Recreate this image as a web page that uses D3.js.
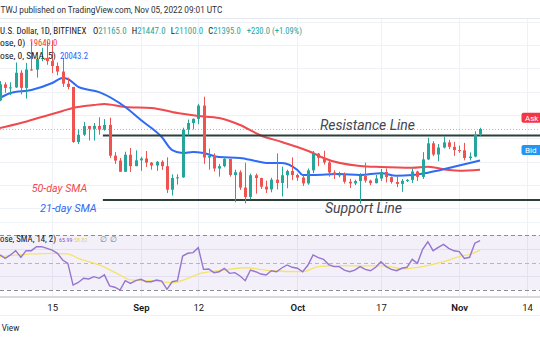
<!DOCTYPE html>
<html><head><meta charset="utf-8">
<script src="https://cdn.jsdelivr.net/npm/d3@7"></script>
<style>
body{margin:0;background:#fff}
svg{display:block}
text{font-family:Roboto,"Liberation Sans","Noto Sans",sans-serif}
text.narrow{font-family:"Liberation Sans Narrow","Roboto Condensed",Roboto,sans-serif}
</style></head>
<body><svg id="c" width="540" height="340"></svg>
<script>
// ---------------- DATA ----------------
const startDate = "2022-08-05", endDate = "2022-11-05";
const opens  = [22620,23310,23160,23180,23810,23160,23950,23940,24400,24440,24310,24100,23860,23340,23200,20840,21150,21520,21400,21530,21370,21570,20250,20040,19560,20290,19800,20050,20130,19950,19830,19990,19800,18790,19290,19320,21370,21650,21830,22400,20170,20240,19700,19800,20110,19420,19540,18880,18480,19410,19290,18920,18800,19220,19080,19410,19590,19420,19310,19060,19620,20340,20160,19960,19530,19420,19440,19130,19060,19160,19380,19180,19070,19270,19550,19330,19120,19040,19170,19210,19570,19340,20090,20780,20300,20600,20820,20630,20490,20480,20150,20210,21165];
const highs  = [23450,23400,23400,24250,23920,24230,25150,24450,24880,25150,25200,24250,24450,23600,23200,21380,21700,21530,21650,21900,21820,21880,20400,20150,20420,20580,20480,20200,20450,19980,20020,20050,20180,19450,19450,21450,21800,21850,22480,22780,20550,20350,19900,20180,20110,19650,19620,19950,19480,19480,19300,19180,19300,20350,19780,19650,20180,19480,19400,19700,20450,20370,20460,20050,19620,19560,19530,19260,19220,19500,19950,19220,19420,19680,19700,19360,19350,19250,19250,19700,19600,20400,21020,20870,20750,21080,20930,20840,20680,20800,20390,21300,21447];
const lows   = [22590,22950,22850,23160,22880,22700,23900,23600,24300,24150,23800,23700,23200,23100,20800,20750,21100,20900,20900,21150,21320,20150,19900,19550,19550,19550,19800,19600,19770,19650,19600,19640,18650,18540,19010,19300,21120,21380,21600,19900,19650,19570,19350,19750,19350,18250,18780,18200,18380,18620,18820,18650,18680,18800,18500,18850,19200,19170,18950,19000,19500,19800,19870,19350,19250,19320,19050,18860,18990,18190,19090,18980,19060,19160,19100,19050,18900,18700,19120,19080,19160,19250,20060,20230,20010,20560,20530,20240,20370,20050,20050,20180,21100];
const closes = [23310,23160,23180,23810,23160,23950,23940,24400,24440,24310,24100,23860,23340,23200,20840,21150,21520,21400,21530,21370,21570,20250,20040,19560,20290,19800,20050,20130,19950,19830,19990,19800,18790,19290,19320,21370,21650,21830,22400,20170,20240,19700,19800,20110,19420,19540,18880,18480,19410,19290,18920,18800,19220,19080,19410,19590,19420,19310,19060,19620,20340,20160,19960,19530,19420,19440,19130,19060,19160,19380,19180,19070,19270,19550,19330,19120,19040,19170,19210,19570,19340,20090,20780,20300,20600,20820,20630,20490,20480,20150,20210,21150,21395];

const rsiValues = [55.5,53,55.5,58.6,53.8,58.6,58.6,61.5,61.5,60.3,59,56.7,51.8,49.4,33.6,35.5,38.5,38,39.7,38.5,41,33,32,30,36.8,34.8,36.8,37.8,36,36,37.3,36.5,30.5,36,36.8,54.7,56.7,57.2,60.8,45,45.3,42.6,43.3,45.7,42.1,42.6,40.2,36.8,44.5,43.3,41.6,40.9,44,43.3,46,48.2,46.5,45.8,43.3,48,55.5,53.5,52.3,48.5,47,47,44.5,43.3,44.5,47,45,44,46.5,50.6,47,45,44,45.8,46.5,52.3,49.4,59.6,65.1,58.6,61,63.2,60.3,58.5,57.9,53,53.8,64,65.99];

const sma21Dates  = ["2022-08-05","2022-08-07","2022-08-11","2022-08-15","2022-08-17","2022-08-18","2022-08-20","2022-08-24","2022-08-29","2022-09-01","2022-09-05","2022-09-07","2022-09-09","2022-09-11","2022-09-13","2022-09-16","2022-09-20","2022-09-23","2022-09-25","2022-09-28","2022-10-01","2022-10-02","2022-10-04","2022-10-09","2022-10-13","2022-10-17","2022-10-20","2022-10-23","2022-10-26","2022-10-30","2022-11-03","2022-11-05"];
const sma21Values = [22725,22940,23070,23370,23585,23540,23200,22980,22340,21780,21050,20490,20365,20410,20365,20190,20150,20020,19940,19940,19635,19420,19420,19460,19420,19500,19390,19420,19520,19720,19935,20043];

const sma50Dates  = ["2022-08-05","2022-08-09","2022-08-13","2022-08-17","2022-08-19","2022-08-23","2022-08-25","2022-08-29","2022-09-03","2022-09-08","2022-09-12","2022-09-16","2022-09-20","2022-09-24","2022-09-28","2022-10-04","2022-10-06","2022-10-13","2022-10-17","2022-10-23","2022-10-26","2022-10-30","2022-11-01","2022-11-05"];
const sma50Values = [21440,21650,21910,22170,22300,22425,22470,22340,22300,22080,21953,21867,21567,21116,20837,20365,20150,19807,19764,19734,19777,19635,19605,19649];

const rsiMaDates  = ["2022-08-05","2022-08-11","2022-08-15","2022-08-18","2022-08-20","2022-08-24","2022-08-28","2022-08-30","2022-09-03","2022-09-07","2022-09-10","2022-09-12","2022-09-16","2022-09-21","2022-09-26","2022-10-02","2022-10-05","2022-10-09","2022-10-15","2022-10-18","2022-10-21","2022-10-25","2022-10-29","2022-11-01","2022-11-03","2022-11-05"];
const rsiMaValues = [54.2,56.2,56.7,56.2,53,48.2,40.9,37.3,36.8,35.3,38.5,41.6,44,46.2,44,43.3,47,47.7,47.5,47.5,45.3,47,50.6,54.2,56,58.82];

const tickDates  = ["2022-08-15","2022-09-01","2022-09-12","2022-10-01","2022-10-17","2022-11-01","2022-11-14"];
const tickLabels = ["15","Sep","12","Oct","17","Nov","14"];
const priceTicks = [18000,19000,20000,21000,22000,23000,24000,25000,26000];
const rsiLevels = [70,50,30];
const rsiGrid = [60,40];

const resistancePrice = 21116, supportPrice = 18348, levelStart = "2022-08-25";
const lastClose = 21395;
const askPrice = 21880, bidPrice = 20494;

// ---------------- SETUP ----------------
const W = 540, H = 340;
const svg = d3.select("#c");
const dates = d3.utcDay.range(new Date(startDate), d3.utcDay.offset(new Date(endDate), 1));
const candles = dates.map((d, i) => ({date: d, o: opens[i], h: highs[i], l: lows[i], c: closes[i]}));

const x = d3.scaleUtc().domain([new Date("2022-08-15"), new Date("2022-11-14")]).range([52.2, 527]);
const y = d3.scaleLinear().domain([18000, 25000]).range([208.1, 45]);
const r = d3.scaleLinear().domain([30, 70]).range([290, 235]);

const GREEN = "#26a69a", RED = "#ef5350", DARK = "#131722";
const MAIN_TOP = 18, MAIN_BOT = 222, RSI_BOT = 296.5;

const defs = svg.append("defs");
defs.append("clipPath").attr("id", "mainClip").append("rect").attr("x", 0).attr("y", MAIN_TOP).attr("width", W).attr("height", MAIN_BOT - MAIN_TOP);
defs.append("clipPath").attr("id", "rsiClip").append("rect").attr("x", 0).attr("y", MAIN_BOT).attr("width", W).attr("height", RSI_BOT - MAIN_BOT);

svg.append("rect").attr("width", W).attr("height", H).attr("fill", "#fff");

// text helper: each item's font-size is scaled so its natural width matches its target (clamped)
function fitItems(items, yb, baseFs, opts = {}) {
  items.forEach(it => {
    const t = svg.append("text").attr("x", it.x).attr("y", yb).attr("font-size", baseFs);
    if (opts.cls) t.attr("class", opts.cls);
    if (opts.italic) t.attr("font-style", "italic");
    it.segs.forEach(([s, c]) => t.append("tspan").attr("fill", c).text(s));
    if (it.w) {
      const k = it.w / t.node().getComputedTextLength();
      const fs = Math.max(opts.min || 6, Math.min(opts.max || 30, baseFs * k));
      t.attr("font-size", fs.toFixed(2));
    }
  });
}

// header
fitItems([{x: 0.5, w: 222, segs: [["TWJ published on TradingView.com, Nov 05, 2022 09:01 UTC", "#2a2e39"]]}], 13.3, 10, {max: 10.5});
svg.append("line").attr("x1", 0).attr("x2", W).attr("y1", MAIN_TOP + 0.5).attr("y2", MAIN_TOP + 0.5).attr("stroke", "#e6e9f0");

// grid
const grid = svg.append("g");
grid.selectAll(".vg").data(tickDates).join("line")
  .attr("x1", d => Math.round(x(new Date(d))) + 0.5).attr("x2", d => Math.round(x(new Date(d))) + 0.5)
  .attr("y1", MAIN_TOP + 1).attr("y2", RSI_BOT).attr("stroke", "#eef1f6");
grid.append("g").attr("clip-path", "url(#mainClip)").selectAll("line").data(priceTicks).join("line")
  .attr("x1", 0).attr("x2", W).attr("y1", d => Math.round(y(d)) + 0.5).attr("y2", d => Math.round(y(d)) + 0.5)
  .attr("stroke", "#eef1f6");

// RSI pane background
const rsiG = svg.append("g").attr("clip-path", "url(#rsiClip)");
rsiG.append("rect").attr("x", 0).attr("width", W).attr("y", r(70)).attr("height", r(30) - r(70)).attr("fill", "#7e57c2").attr("fill-opacity", 0.09);
rsiG.selectAll(".rg").data(rsiGrid).join("line").attr("x1", 0).attr("x2", W)
  .attr("y1", d => Math.round(r(d)) + 0.5).attr("y2", d => Math.round(r(d)) + 0.5).attr("stroke", "#e4dff0");
rsiG.selectAll(".rl").data(rsiLevels).join("line").attr("x1", 0).attr("x2", W)
  .attr("y1", d => Math.round(r(d)) + 0.5).attr("y2", d => Math.round(r(d)) + 0.5)
  .attr("stroke", d => d === 50 ? "#b5b7bf" : "#8a8d96").attr("stroke-dasharray", "4,3");

// main pane
const main = svg.append("g").attr("clip-path", "url(#mainClip)");

// current price dotted line
main.append("line").attr("x1", 0).attr("x2", W).attr("y1", Math.round(y(lastClose)) + 0.5).attr("y2", Math.round(y(lastClose)) + 0.5)
  .attr("stroke", GREEN).attr("stroke-opacity", 0.55).attr("stroke-dasharray", "1,2");

// SMA lines
const mkLine = (ds, vs) => ds.map((d, i) => ({date: new Date(d), v: vs[i]}));
const priceLine = d3.line().x(d => x(d.date)).y(d => y(d.v)).curve(d3.curveMonotoneX);
main.append("path").datum(mkLine(sma50Dates, sma50Values)).attr("d", priceLine)
  .attr("fill", "none").attr("stroke", "#f04a50").attr("stroke-width", 2);
main.append("path").datum(mkLine(sma21Dates, sma21Values)).attr("d", priceLine)
  .attr("fill", "none").attr("stroke", "#2f6bf5").attr("stroke-width", 2);

// level lines
[resistancePrice, supportPrice].forEach(p => {
  main.append("line").attr("x1", x(new Date(levelStart)) - 1.5).attr("x2", W)
    .attr("y1", y(p)).attr("y2", y(p)).attr("stroke", "#2b4038").attr("stroke-width", 2);
});

// candles
const cg = main.append("g");
const cx = d => Math.round(x(d.date));
cg.selectAll(".w").data(candles).join("line")
  .attr("x1", d => cx(d) + 0.5).attr("x2", d => cx(d) + 0.5)
  .attr("y1", d => y(d.h)).attr("y2", d => y(d.l))
  .attr("stroke", d => d.c >= d.o ? GREEN : RED).attr("stroke-width", 1);
cg.selectAll(".b").data(candles).join("rect")
  .attr("x", d => cx(d) - 1).attr("width", 3)
  .attr("y", d => y(Math.max(d.o, d.c)))
  .attr("height", d => Math.max(1, Math.abs(y(d.o) - y(d.c))))
  .attr("fill", d => d.c >= d.o ? GREEN : RED);

// RSI lines
const rsiData = candles.map((d, i) => ({date: d.date, v: rsiValues[i]}));
rsiG.append("path").datum(mkLine(rsiMaDates, rsiMaValues))
  .attr("d", d3.line().x(d => x(d.date)).y(d => r(d.v)).curve(d3.curveMonotoneX))
  .attr("fill", "none").attr("stroke", "#f5e36a").attr("stroke-width", 1.3);
rsiG.append("path").datum(rsiData).attr("d", d3.line().x(d => x(d.date)).y(d => r(d.v)))
  .attr("fill", "none").attr("stroke", "#9575cd").attr("stroke-width", 1.4);

// annotations
fitItems([{x: 320, w: 95, segs: [["Resistance Line", "#434651"]]}], 129.5, 14, {italic: true});
fitItems([{x: 325, w: 77, segs: [["Support Line", "#434651"]]}], 212.5, 14, {italic: true});
fitItems([{x: 31.7, w: 55.6, segs: [["50-day SMA", "#f04a50"]]}], 191.7, 11, {italic: true});
fitItems([{x: 40, w: 56.7, segs: [["21-day SMA", "#2f6bf5"]]}], 211.7, 11, {italic: true});

// Ask / Bid labels
[[askPrice, "Ask", "#f23645"], [bidPrice, "Bid", "#2196f3"]].forEach(([p, t, c]) => {
  const yc = y(p);
  svg.append("rect").attr("x", 521.5).attr("y", yc - 5).attr("width", 24).attr("height", 10).attr("rx", 2).attr("fill", c);
  svg.append("text").attr("x", 525).attr("y", yc + 3).attr("font-size", 8).attr("fill", "#fff").text(t);
});

// legends
const L = {cls: "narrow", max: 9.5};
fitItems([
  {x: 0, w: 86.5, segs: [["U.S. Dollar, 1D, BITFINEX", DARK]]},
  {x: 93, w: 33.5, segs: [["O", DARK], ["21165.0", GREEN]]},
  {x: 131.7, w: 33.8, segs: [["H", DARK], ["21447.0", GREEN]]},
  {x: 170.7, w: 32.5, segs: [["L", DARK], ["21100.0", GREEN]]},
  {x: 208.3, w: 32.4, segs: [["C", DARK], ["21395.0", GREEN]]},
  {x: 246.7, w: 55.3, segs: [["+230.0 (+1.09%)", GREEN]]}
], 33.5, 9, L);
fitItems([
  {x: 0, w: 26.5, segs: [["ose, 0)", DARK]]},
  {x: 29.5, w: 27.8, segs: [["19649.0", "#f23645"]]}
], 46, 9, L);
fitItems([
  {x: 0, w: 57, segs: [["ose, 0, SMA, 5)", DARK]]},
  {x: 60, w: 28, segs: [["20043.2", "#2962ff"]]}
], 58.5, 9, L);
fitItems([
  {x: 0, w: 56, segs: [["ose, SMA, 14, 2)", DARK]]},
  {x: 59, w: 11.8, segs: [["65.99", "#7e57c2"]]},
  {x: 74, w: 11.5, segs: [["58.82", "#e9d44a"]]}
], 242.3, 9, L);
fitItems([
  {x: 100, segs: [["∅", "#787b86"]]},
  {x: 110, segs: [["∅", "#787b86"]]}
], 242.3, 8);

// pane separator and time axis
svg.append("line").attr("x1", 0).attr("x2", W).attr("y1", MAIN_BOT + 0.5).attr("y2", MAIN_BOT + 0.5).attr("stroke", "#f0f3f8");
svg.append("line").attr("x1", 0).attr("x2", W).attr("y1", RSI_BOT + 0.5).attr("y2", RSI_BOT + 0.5).attr("stroke", "#b2b5be");
svg.append("line").attr("x1", 0).attr("x2", W).attr("y1", 315.5).attr("y2", 315.5).attr("stroke", "#eef0f4");

const xAxis = d3.axisBottom(x).tickValues(tickDates.map(d => new Date(d)))
  .tickFormat((d, i) => tickLabels[i]).tickSize(0).tickPadding(0);
const ax = svg.append("g").attr("transform", "translate(0,304)").call(xAxis);
ax.select(".domain").remove();
ax.selectAll("text").attr("font-size", 9.5).attr("fill", DARK)
  .attr("font-family", "Roboto,'Liberation Sans',sans-serif")
  .attr("font-weight", (d, i) => isNaN(+tickLabels[i]) ? 600 : 400);

fitItems([{x: 1.7, w: 17.6, segs: [["View", DARK]]}], 331, 10);
</script></body></html>
